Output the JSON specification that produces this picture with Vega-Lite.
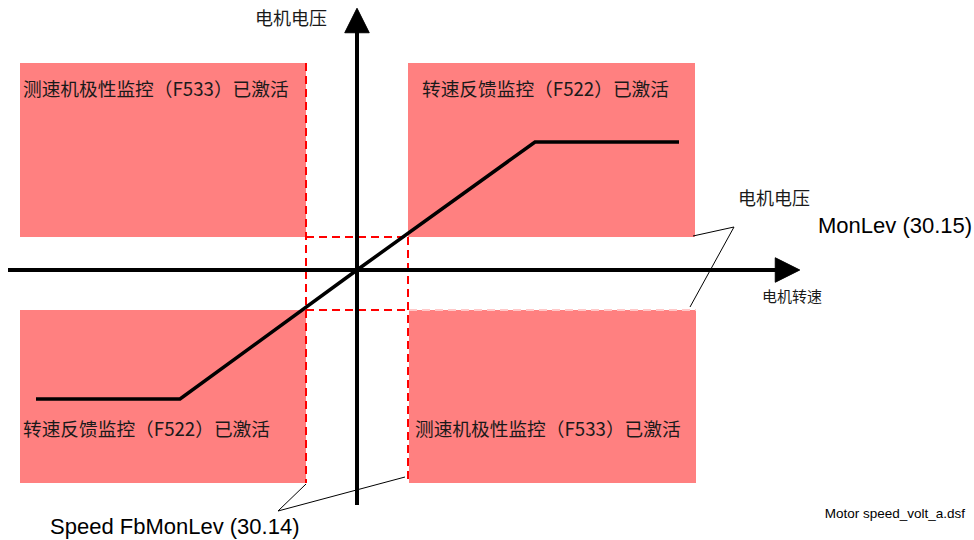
{
  "$schema": "https://vega.github.io/schema/vega-lite/v6.json",
  "width": 974,
  "height": 540,
  "autosize": {"type": "fit", "contains": "padding"},
  "padding": 0,
  "background": "white",
  "config": {"view": {"stroke": null}},
  "encoding": {
    "x": {"type": "quantitative", "scale": {"domain": [-357, 617], "nice": false, "zero": false}, "axis": null},
    "y": {"type": "quantitative", "scale": {"domain": [-270, 270], "nice": false, "zero": false}, "axis": null}
  },
  "layer": [
    {
      "data": {"values": [
        {"zone": "TL", "s1": -337, "s2": -51, "v1": 207, "v2": 33},
        {"zone": "TR", "s1": 51, "s2": 338, "v1": 207, "v2": 33},
        {"zone": "BL", "s1": -337, "s2": -51, "v1": -40, "v2": -213},
        {"zone": "BR", "s1": 52, "s2": 339, "v1": -40, "v2": -213}
      ]},
      "mark": {"type": "rect", "fill": "#FF8080"},
      "encoding": {
        "x": {"field": "s1", "type": "quantitative"},
        "x2": {"field": "s2"},
        "y": {"field": "v1", "type": "quantitative"},
        "y2": {"field": "v2"}
      }
    },
    {
      "data": {"values": [
        {"s1": 52, "s2": 339, "v1": -40, "v2": -40}
      ]},
      "mark": {"type": "rule", "stroke": "#FFC8C8", "strokeWidth": 2, "strokeDash": [8, 5]},
      "encoding": {
        "x": {"field": "s1", "type": "quantitative"},
        "x2": {"field": "s2"},
        "y": {"field": "v1", "type": "quantitative"},
        "y2": {"field": "v2"}
      }
    },
    {
      "data": {"values": [
        {"s1": -51, "s2": -51, "v1": 207, "v2": -213},
        {"s1": 51, "s2": 51, "v1": 33, "v2": -213},
        {"s1": -51, "s2": 51, "v1": 33, "v2": 33},
        {"s1": -51, "s2": 51, "v1": -40, "v2": -40}
      ]},
      "mark": {"type": "rule", "stroke": "#FF0000", "strokeWidth": 2, "strokeDash": [8, 5]},
      "encoding": {
        "x": {"field": "s1", "type": "quantitative"},
        "x2": {"field": "s2"},
        "y": {"field": "v1", "type": "quantitative"},
        "y2": {"field": "v2"}
      }
    },
    {
      "data": {"values": [
        {"s1": 336, "s2": 377, "v1": 34, "v2": 43},
        {"s1": 377, "s2": 333, "v1": 43, "v2": -37},
        {"s1": -51, "s2": -79, "v1": -214, "v2": -241},
        {"s1": -79, "s2": 48, "v1": -241, "v2": -207}
      ]},
      "mark": {"type": "rule", "stroke": "#000000", "strokeWidth": 1},
      "encoding": {
        "x": {"field": "s1", "type": "quantitative"},
        "x2": {"field": "s2"},
        "y": {"field": "v1", "type": "quantitative"},
        "y2": {"field": "v2"}
      }
    },
    {
      "data": {"values": [
        {"i": 1, "speed": -321, "volt": -129},
        {"i": 2, "speed": -177, "volt": -129},
        {"i": 3, "speed": 0, "volt": 0},
        {"i": 4, "speed": 178, "volt": 128},
        {"i": 5, "speed": 322, "volt": 128}
      ]},
      "mark": {"type": "line", "stroke": "#000000", "strokeWidth": 3.5},
      "encoding": {
        "x": {"field": "speed", "type": "quantitative"},
        "y": {"field": "volt", "type": "quantitative"},
        "order": {"field": "i"}
      }
    },
    {
      "data": {"values": [
        {"s1": -349, "s2": 420, "v1": 0, "v2": 0},
        {"s1": 0, "s2": 0, "v1": -235, "v2": 240}
      ]},
      "mark": {"type": "rule", "stroke": "#000000", "strokeWidth": 4},
      "encoding": {
        "x": {"field": "s1", "type": "quantitative"},
        "x2": {"field": "s2"},
        "y": {"field": "v1", "type": "quantitative"},
        "y2": {"field": "v2"}
      }
    },
    {
      "data": {"values": [{"speed": 0, "volt": 249.5}]},
      "mark": {"type": "point", "shape": "M0,-1L1,1L-1,1Z", "filled": true, "fill": "#000000", "stroke": "#000000", "strokeWidth": 1, "strokeJoin": "round", "opacity": 1, "size": 600},
      "encoding": {
        "x": {"field": "speed", "type": "quantitative"},
        "y": {"field": "volt", "type": "quantitative"}
      }
    },
    {
      "data": {"values": [{"speed": 430.5, "volt": 0}]},
      "mark": {"type": "point", "shape": "M1,0L-1,-1L-1,1Z", "filled": true, "fill": "#000000", "stroke": "#000000", "strokeWidth": 1, "strokeJoin": "round", "opacity": 1, "size": 600},
      "encoding": {
        "x": {"field": "speed", "type": "quantitative"},
        "y": {"field": "volt", "type": "quantitative"}
      }
    },
    {
      "data": {"values": [
        {"label": "测速机极性监控（F533）已激活", "speed": -334, "volt": 180},
        {"label": "转速反馈监控（F522）已激活", "speed": 65, "volt": 180},
        {"label": "转速反馈监控（F522）已激活", "speed": -334, "volt": -160},
        {"label": "测速机极性监控（F533）已激活", "speed": 58, "volt": -160}
      ]},
      "mark": {"type": "text", "align": "left", "baseline": "middle", "font": "Noto Sans CJK SC", "fontSize": 18.7, "fill": "#1a1a1a"},
      "encoding": {
        "x": {"field": "speed", "type": "quantitative"},
        "y": {"field": "volt", "type": "quantitative"},
        "text": {"field": "label"}
      }
    },
    {
      "data": {"values": [
        {"label": "电机电压", "speed": -102, "volt": 250},
        {"label": "电机电压", "speed": 381, "volt": 70}
      ]},
      "mark": {"type": "text", "align": "left", "baseline": "middle", "font": "Noto Sans CJK SC", "fontSize": 18, "fill": "#1a1a1a"},
      "encoding": {
        "x": {"field": "speed", "type": "quantitative"},
        "y": {"field": "volt", "type": "quantitative"},
        "text": {"field": "label"}
      }
    },
    {
      "data": {"values": [
        {"label": "电机转速", "speed": 405, "volt": -27}
      ]},
      "mark": {"type": "text", "align": "left", "baseline": "middle", "font": "Noto Sans CJK SC", "fontSize": 15, "fill": "#1a1a1a"},
      "encoding": {
        "x": {"field": "speed", "type": "quantitative"},
        "y": {"field": "volt", "type": "quantitative"},
        "text": {"field": "label"}
      }
    },
    {
      "data": {"values": [
        {"label": "MonLev (30.15)", "speed": 461, "volt": 44},
        {"label": "Speed FbMonLev (30.14)", "speed": -307, "volt": -257}
      ]},
      "mark": {"type": "text", "align": "left", "baseline": "middle", "font": "Liberation Sans", "fontSize": 22, "fill": "#000000"},
      "encoding": {
        "x": {"field": "speed", "type": "quantitative"},
        "y": {"field": "volt", "type": "quantitative"},
        "text": {"field": "label"}
      }
    },
    {
      "data": {"values": [
        {"label": "Motor speed_volt_a.dsf", "speed": 608, "volt": -244}
      ]},
      "mark": {"type": "text", "align": "right", "baseline": "middle", "font": "Liberation Sans", "fontSize": 13.5, "fill": "#000000"},
      "encoding": {
        "x": {"field": "speed", "type": "quantitative"},
        "y": {"field": "volt", "type": "quantitative"},
        "text": {"field": "label"}
      }
    }
  ]
}
